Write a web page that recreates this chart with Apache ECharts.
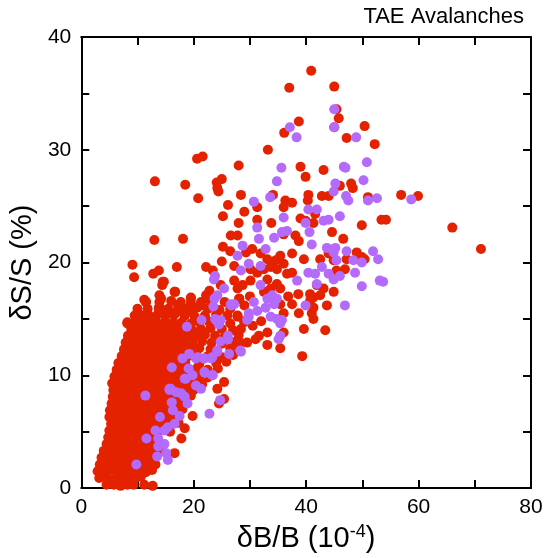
<!DOCTYPE html>
<html>
<head>
<meta charset="utf-8">
<title>TAE Avalanches</title>
<script src="https://cdn.jsdelivr.net/npm/echarts@6/dist/echarts.min.js"></script>
<style>
  html, body { margin: 0; padding: 0; background: #fff; }
  #chart { width: 554px; height: 558px; }
</style>
</head>
<body>
<div id="chart"></div>
<script>
// dB/B (1e-4), dS/S (%)
const redSparse = [
  [40.9,37.0],[37.0,35.5],[45.0,35.6],[45.4,33.6],[45.8,32.8],[38.7,32.5],[36.1,31.5],[45.0,32.0],
  [47.2,31.05],[50.4,32.1],[52.2,30.5],[33.2,30.0],[28.0,28.6],[39.0,28.5],[39.9,27.6],[43.1,28.2],
  [46.0,26.8],[48.0,27.0],[48.3,26.6],[21.6,29.4],[20.6,29.2],[13.1,27.2],[18.5,26.9],[25.0,27.4],
  [24.1,27.1],[24.2,26.6],[56.9,26.0],[59.9,25.9],[54.2,23.8],[66.0,23.1],[71.1,21.2]
];
const redMid = [
  [20.8,25.7],[24.4,26.3],[26.1,25.1],[25.2,24.1],[13.0,22.0],[18.1,22.1],[26.6,22.4],[25.2,21.4],
  [26.5,21.0],[25.0,20.1],[9.1,19.8],[9.4,18.7],[12.8,19.0],[13.8,19.3],[17.0,19.6],[22.2,19.6],
  [23.4,19.3],[14.7,18.3],[14.4,18.0],[16.6,17.4],[11.2,16.7],[11.5,16.5],[13.9,17.1],[14.2,16.8],
  [19.5,16.8],[22.2,17.1],[22.8,17.5],[24.8,18.0],[14.0,16.0],[10.6,15.3],[11.3,15.3],[11.9,14.9],
  [12.8,14.4],[8.2,14.6],[9.0,14.0],[15.7,15.5],[17.2,16.2],[18.4,15.3],[19.5,15.7],[21.3,16.2],
  [22.5,16.8],[14.5,18.3],[16.7,17.4],[19.5,16.9],[15.5,15.5],[13.8,15.9],[17.7,15.7],[19.8,15.7],
  [28.4,26.0],[34.1,26.0],[36.3,25.5],[37.5,25.3],[40.4,26.0],[40.3,25.5],[42.8,25.9],[44.0,25.9],
  [51.0,25.8],[36.0,24.9],[31.3,24.9],[39.0,23.9],[39.9,23.7],[41.6,24.3],[41.3,23.5],[49.9,23.3],
  [53.4,23.8],[31.3,23.8],[33.8,23.5],[27.8,22.4],[36.0,22.5],[38.1,22.4],[38.7,21.9],[44.6,22.7],
  [46.6,22.1],[29.3,20.9],[30.4,21.2],[31.9,20.8],[33.1,20.3],[34.6,20.2],[35.4,20.6],[37.5,20.8],
  [39.6,20.3],[36.0,19.9],[42.5,20.3],[44.0,20.8],[44.9,20.2],[47.2,20.3],[49.0,20.9],[49.9,20.5],
  [50.4,20.3],[46.9,19.4],[45.4,19.3],[27.2,19.7],[30.1,19.4],[31.3,19.1],[32.5,19.4],[33.7,19.6],
  [34.8,19.4],[36.6,19.0],[37.5,19.1],[27.2,18.4],[28.7,18.0],[30.1,18.4],[33.1,18.5],[33.7,17.7],
  [34.8,18.1],[35.4,17.7],[41.9,18.0],[43.1,17.7],[44.9,17.4],[41.3,16.9],[42.5,17.1],[40.7,16.6],
  [43.7,16.2],[41.3,16.0],[41.0,15.5],[38.7,15.5],[35.4,16.3],[36.0,15.5],[39.6,14.1],[43.4,14.0],
  [41.3,15.0],[27.8,17.7],[28.1,16.8],[29.0,16.2],[27.8,15.3],[29.0,14.7],[31.6,13.5],[33.1,13.8],
  [36.0,13.8],[28.1,13.0],[31.0,13.2],[33.1,12.7],[35.4,12.4],[39.3,11.7],[40.7,17.2],[36.8,17.0],
  [37.5,16.3],[38.6,17.2],[30.5,14.4],[32.0,14.8],[30.0,17.0],[32.5,17.4],[29.0,24.5],[28.0,23.5]
];
// the solid core near the origin
const redCore = [
  [4.5,0.3],[5.8,0.3],[7.0,0.2],[8.2,0.3],[9.3,0.3],[11.2,0.3],[12.7,0.2],
  [3.2,0.9],[4.6,0.9],[5.9,0.8],[7.1,0.9],[8.4,1.0],[9.6,0.9],[10.6,1.0],
  [2.9,1.5],[4.1,1.5],[5.4,1.6],[6.6,1.5],[7.8,1.5],[9.0,1.6],[10.2,1.5],[11.5,1.4],[12.6,1.6],
  [3.3,2.1],[4.6,2.1],[5.8,2.2],[7.1,2.1],[8.3,2.1],[9.5,2.2],[10.8,2.1],[12.1,2.0],[13.2,2.1],
  [3.6,2.7],[4.9,2.7],[6.2,2.8],[7.4,2.7],[8.6,2.7],[9.8,2.8],[11.1,2.7],[12.4,2.6],
  [4.0,3.3],[5.3,3.3],[6.5,3.4],[7.7,3.3],[9.0,3.3],[10.3,3.4],[11.6,3.3],[12.8,3.2],[14.2,3.3],
  [4.5,3.9],[5.7,3.9],[7.0,4.0],[8.2,3.9],[9.5,3.9],[10.8,4.0],[12.0,3.9],[13.2,3.8],[16.6,3.1],
  [4.8,4.5],[6.0,4.5],[7.3,4.6],[8.5,4.5],[9.8,4.5],[11.0,4.6],[12.3,4.5],[13.5,4.5],[17.8,4.4],
  [5.0,5.1],[6.2,5.1],[7.5,5.2],[8.8,5.1],[10.0,5.1],[11.3,5.2],[12.5,5.1],[14.0,5.1],[15.8,5.0],[18.4,5.3],
  [5.3,5.7],[6.5,5.7],[7.8,5.8],[9.0,5.7],[10.3,5.7],[11.6,5.8],[12.8,5.7],[14.2,5.7],[15.5,5.6],[17.3,5.8],
  [5.0,6.3],[6.3,6.3],[7.6,6.4],[8.8,6.3],[10.1,6.3],[11.4,6.4],[12.7,6.3],[13.9,6.3],[15.2,6.2],[16.5,6.3],[19.8,6.4],
  [5.1,6.9],[6.4,6.9],[7.7,7.0],[9.0,6.9],[10.3,6.9],[11.6,7.0],[12.9,6.9],[14.2,6.9],[15.4,6.8],[16.8,6.9],[18.0,7.0],
  [5.4,7.5],[6.7,7.5],[8.0,7.6],[9.3,7.5],[10.5,7.5],[11.8,7.6],[13.1,7.5],[14.4,7.5],[15.7,7.4],[17.0,7.5],[18.2,7.6],[24.5,7.5],
  [5.6,8.1],[6.9,8.1],[8.2,8.2],[9.5,8.1],[10.8,8.1],[12.1,8.2],[13.3,8.1],[14.6,8.1],[16.0,8.0],[17.3,8.1],[19.5,8.2],[25.4,7.9],
  [5.7,8.7],[7.0,8.7],[8.3,8.8],[9.6,8.7],[10.9,8.7],[12.2,8.8],[13.5,8.7],[14.8,8.7],[16.1,8.6],[17.4,8.7],[18.7,8.8],[20.0,8.7],[24.2,8.8],
  [5.5,9.3],[6.8,9.3],[8.1,9.4],[9.4,9.3],[10.7,9.3],[12.0,9.4],[13.3,9.3],[14.6,9.3],[15.9,9.2],[17.2,9.3],[18.5,9.4],[20.0,9.3],[21.5,9.2],[25.4,9.4],
  [5.9,9.9],[7.2,9.9],[8.5,10.0],[9.8,9.9],[11.1,9.9],[12.4,10.0],[13.7,9.9],[15.0,9.9],[16.3,9.8],[17.6,9.9],[19.0,10.0],[21.0,9.9],[22.5,9.8],
  [6.3,10.5],[7.6,10.5],[8.9,10.6],[10.2,10.5],[11.5,10.5],[12.8,10.6],[14.1,10.5],[15.4,10.5],[16.7,10.4],[18.0,10.5],[20.5,10.6],[22.5,10.5],[24.3,10.6],
  [6.6,11.1],[7.9,11.1],[9.2,11.2],[10.5,11.1],[11.8,11.1],[13.1,11.2],[14.4,11.1],[15.7,11.1],[17.0,11.0],[18.5,11.1],[21.0,11.0],[24.0,11.1],[25.8,11.2],
  [7.2,11.7],[8.5,11.7],[9.8,11.8],[11.1,11.7],[12.4,11.7],[13.7,11.8],[15.0,11.7],[16.3,11.7],[17.6,11.6],[19.0,11.7],[20.5,11.8],[22.5,11.7],[25.0,11.6],[27.0,11.8],
  [7.6,12.3],[8.9,12.3],[10.2,12.4],[11.5,12.3],[12.8,12.3],[14.1,12.4],[15.4,12.3],[16.7,12.3],[18.0,12.2],[19.5,12.3],[21.0,12.4],[23.0,12.3],[26.5,12.4],[28.0,12.6],
  [7.9,12.9],[9.2,12.9],[10.5,13.0],[11.8,12.9],[13.1,12.9],[14.4,13.0],[15.7,12.9],[17.0,12.9],[18.3,12.8],[19.8,12.9],[21.5,13.0],[23.2,12.9],[25.0,12.8],[27.5,13.0],[29.5,12.9],
  [8.3,13.5],[9.6,13.5],[10.9,13.6],[12.2,13.5],[13.5,13.5],[14.8,13.6],[16.1,13.5],[17.4,13.5],[18.9,13.4],[20.5,13.5],[22.0,13.6],[23.8,13.5],[25.5,13.4],[28.0,13.6],
  [8.9,14.1],[10.2,14.1],[11.5,14.2],[12.8,14.1],[14.1,14.1],[15.4,14.2],[16.9,14.1],[18.3,14.1],[19.8,14.0],[21.3,14.1],[23.0,14.2],[25.0,14.1],[27.0,14.0],[28.4,14.1],
  [8.2,14.7],[9.5,14.7],[10.8,14.8],[12.1,14.7],[13.4,14.7],[14.9,14.8],[16.4,14.7],[17.9,14.7],[19.5,14.6],[21.0,14.7],[22.6,14.8],[24.5,14.7],[26.5,14.6],[29.0,14.8],
  [9.5,15.3],[10.6,15.3],[11.9,15.4],[13.4,15.3],[15.0,15.3],[16.6,15.4],[18.4,15.3],[20.2,15.2],[22.0,15.3],[24.0,15.4],[26.0,15.3],[27.8,15.2],
  [10.0,15.9],[11.8,15.9],[13.8,16.0],[15.5,15.9],[17.2,15.8],[18.8,15.9],[20.6,16.0],[22.5,15.9],[24.6,15.8],[26.5,15.9],
  [11.5,16.5],[13.9,16.5],[16.0,16.6],[17.7,16.5],[19.5,16.4],[21.3,16.5],[23.0,16.6],[25.5,16.5],[28.1,16.8]
];
const purpleUpper = [
  [45.0,33.6],[37.1,32.0],[38.3,31.1],[45.0,32.0],[48.9,31.1],[35.6,28.4],[46.7,28.5],[47.0,28.4],
  [50.8,28.9],[50.2,27.3],[34.8,27.2],[45.2,27.0],[58.7,25.6],[53.7,18.3],
  [30.7,25.4],[33.6,25.8],[47.1,25.9],[47.5,25.5],[51.0,25.5],[52.6,25.7],[44.9,26.3],[40.4,24.7],
  [41.9,24.7],[36.0,24.0],[39.9,23.5],[43.1,23.7],[44.0,23.8],[46.0,24.1],[31.3,23.1],[35.7,22.7],
  [36.6,22.8],[40.6,22.7],[31.6,22.1],[34.3,22.2],[32.8,21.2],[28.7,21.5],[27.8,20.6],[41.0,21.6],
  [43.7,21.3],[45.2,21.3],[44.9,20.9],[47.2,21.0],[51.9,21.0],[45.4,20.2],[48.4,20.2],[49.9,20.0],
  [52.8,20.3],[29.8,19.9],[28.4,19.3],[31.9,19.7],[40.4,19.1],[41.6,19.0],[42.8,19.6],[44.0,19.0],
  [46.0,18.8],[48.7,19.1],[44.9,18.5],[53.1,18.4],[49.9,17.9],[38.4,18.4],[41.9,18.1],[31.9,18.0],
  [34.0,17.1],[33.1,16.8],[34.8,16.8],[34.3,16.3],[32.8,16.0],[30.7,16.5],[31.3,15.7],[29.8,15.5],
  [29.5,14.9],[33.7,15.2],[34.8,15.0],[35.7,14.9],[35.4,14.6],[39.9,16.2],[46.9,16.2],[27.2,16.3],
  [35.4,13.5],[28.4,12.1],[35.1,13.2]
];
const purpleLower = [
  [23.8,18.8],[25.4,17.7],[24.2,17.1],[23.7,16.8],[23.5,16.1],[26.6,16.3],[21.4,14.9],[18.8,14.3],
  [23.8,15.0],[24.5,14.5],[26.1,13.5],[23.6,18.5],[26.7,16.2],[24.8,14.9],[29.8,15.2],[26.1,13.2],
  [24.8,13.0],[26.3,11.9],[28.3,12.2],[19.2,11.9],[18.0,11.5],[20.4,11.5],[21.8,11.5],[23.3,11.6],
  [24.2,12.1],[16.1,10.7],[19.1,10.6],[19.8,10.0],[18.6,9.7],[22.0,10.2],[23.3,10.0],[15.9,8.8],
  [20.4,9.1],[24.2,12.2],[20.7,11.6],[21.9,11.5],[23.1,11.5],[21.9,10.3],[23.4,10.0],[18.4,9.7],
  [21.3,8.8],[15.7,8.8],[16.9,8.5],[17.8,8.4],[18.4,8.1],[18.9,7.5],[24.7,7.8],[11.4,8.2],
  [22.8,6.6],[16.3,6.9],[17.5,6.4],[14.0,6.3],[16.6,5.7],[15.4,5.4],[13.2,5.1],[11.6,4.4],
  [13.7,4.4],[14.8,3.9],[13.7,3.7],[15.1,3.1],[13.5,2.8],[15.4,2.5],[9.8,2.1],[15.7,8.7],
  [16.1,7.6],[14.8,5.1]
];

const xTicks = [0, 20, 40, 60, 80];
const yTicks = [0, 10, 20, 30, 40];

const chart = echarts.init(document.getElementById('chart'));
const font = "'Liberation Sans', Arial, Helvetica, sans-serif";
const frameLine = { show: true, onZero: false, lineStyle: { color: '#000', width: 2 } };
const tick = { show: true, inside: true, length: 8, lineStyle: { color: '#000', width: 2 } };

function baseX(pos, labels) {
  return {
    type: 'value', position: pos, min: 0, max: 80, interval: 10,
    axisLine: frameLine, axisTick: tick, splitLine: { show: false },
    axisLabel: {
      show: labels, margin: 9, color: '#000', fontSize: 21, fontFamily: font,
      formatter: v => xTicks.includes(v) ? String(v) : ''
    }
  };
}
function baseY(pos, labels) {
  return {
    type: 'value', position: pos, min: 0, max: 40, interval: 5,
    axisLine: frameLine, axisTick: tick, splitLine: { show: false },
    axisLabel: {
      show: labels, margin: 10, color: '#000', fontSize: 21, fontFamily: font,
      formatter: v => yTicks.includes(v) ? String(v) : ''
    }
  };
}

const xMain = baseX('bottom', true);
xMain.name = '{a|δB/B (10}{s|-4}{a|)}';
xMain.nameLocation = 'middle';
xMain.nameGap = 31;
xMain.nameTextStyle = {
  rich: {
    a: { fontSize: 29, fontFamily: font, color: '#000', verticalAlign: 'bottom' },
    s: { fontSize: 18, fontFamily: font, color: '#000', verticalAlign: 'top', padding: [0, 0, 12, 0] }
  }
};
const yMain = baseY('left', true);
yMain.name = 'δS/S (%)';
yMain.nameLocation = 'middle';
yMain.nameGap = 32;
yMain.nameTextStyle = { fontSize: 29, fontFamily: font, color: '#000' };

chart.setOption({
  animation: false,
  backgroundColor: '#fff',
  title: {
    text: 'TAE Avalanches', right: 25, top: 1,
    textStyle: { fontSize: 22, fontWeight: 'normal', fontFamily: font, color: '#000' }
  },
  grid: { left: 78, right: 23, top: 37, bottom: 68 },
  xAxis: [xMain, baseX('top', false)],
  yAxis: [yMain, baseY('right', false)],
  series: [
    { type: 'scatter', data: redCore.concat(redMid, redSparse), symbolSize: 10,
      itemStyle: { color: '#e42200', opacity: 1 } },
    { type: 'scatter', data: purpleLower.concat(purpleUpper), symbolSize: 10,
      itemStyle: { color: '#b46bfc', opacity: 1 } }
  ]
});
</script>
</body>
</html>
